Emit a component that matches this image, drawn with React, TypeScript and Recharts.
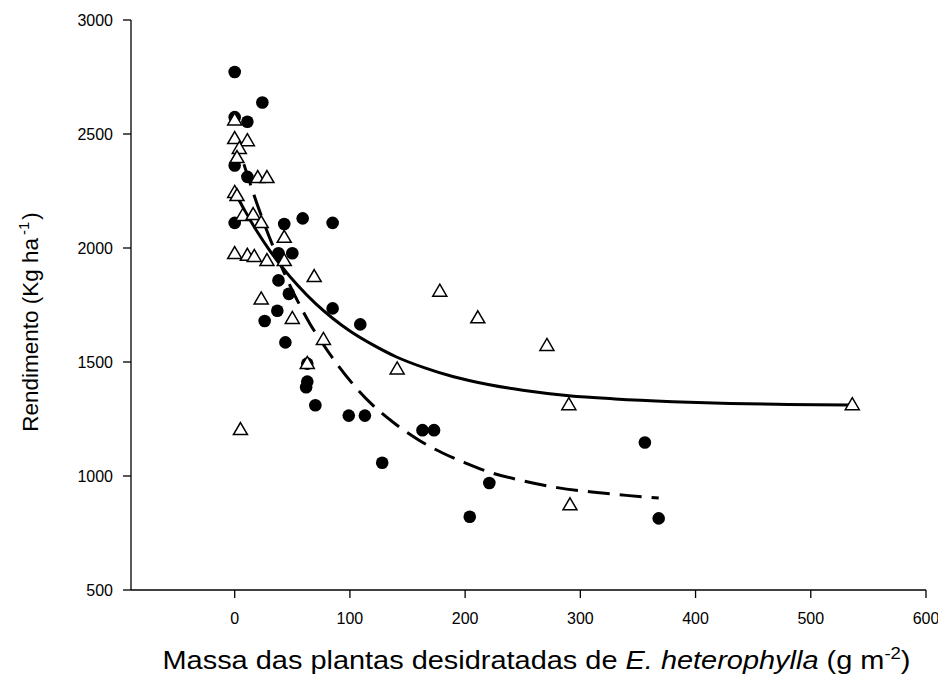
import { ComposedChart, Scatter, Line, XAxis, YAxis, Label } from "recharts"

// Rendimento em função da massa seca de E. heterophylla: dois conjuntos de pontos e as curvas ajustadas

// pontos cheios (●)
const circleX = [0, 24, 11, 0, 0, 11, 0, 43, 59, 85, 38, 50, 38, 47, 37, 26, 44, 85, 109, 63, 63, 62, 70, 99, 113, 128, 163, 173, 221, 204, 356, 368]
const circleY = [2772, 2638, 2554, 2574, 2362, 2312, 2110, 2105, 2130, 2110, 1977, 1977, 1858, 1799, 1725, 1680, 1586, 1735, 1665, 1493, 1414, 1389, 1310, 1265, 1265, 1058, 1201, 1201, 969, 821, 1147, 814]

// pontos vazios (△)
const triangleX = [0, 0, 11, 4, 2, 20, 28, 0, 2, 7, 16, 23, 43, 0, 11, 17, 28, 43, 69, 23, 50, 77, 63, 5, 178, 211, 271, 141, 290, 536, 291]
const triangleY = [2564, 2482, 2473, 2439, 2399, 2311, 2311, 2246, 2232, 2145, 2149, 2114, 2049, 1978, 1970, 1965, 1947, 1947, 1877, 1779, 1693, 1601, 1496, 1206, 1813, 1696, 1575, 1472, 1315, 1315, 876]

// curva contínua (△)
const solidX = [2, 10, 20, 30, 40, 55, 70, 85, 100, 120, 140, 165, 190, 220, 250, 290, 330, 380, 430, 480, 534]
const solidY = [2228, 2152, 2068, 1992, 1924, 1834, 1757, 1692, 1636, 1575, 1523, 1474, 1435, 1401, 1376, 1352, 1338, 1326, 1318, 1314, 1311]

// curva tracejada (●)
const dashedX = [8, 15, 25, 35, 45, 55, 65, 75, 90, 105, 120, 140, 160, 180, 200, 220, 250, 280, 310, 340, 368]
const dashedY = [2367, 2258, 2115, 1986, 1868, 1764, 1670, 1591, 1483, 1389, 1310, 1226, 1157, 1102, 1058, 1019, 979, 949, 930, 915, 903]

const xTicks = [0, 100, 200, 300, 400, 500, 600]
const yTicks = [500, 1000, 1500, 2000, 2500, 3000]

const toPoints = (xs: number[], ys: number[]) => xs.map((x, i) => ({ x, y: ys[i] }))

const circles = toPoints(circleX, circleY)
const triangles = toPoints(triangleX, triangleY)
const solid = toPoints(solidX, solidY)
const dashed = toPoints(dashedX, dashedY)

const FONT = "Arial, 'Liberation Sans', sans-serif"

const FilledDot = (p: any) => <circle cx={p.cx} cy={p.cy} r={6.3} fill="#000" />

const OpenTriangle = (p: any) => {
  const { cx, cy } = p
  return (
    <path
      d={`M${cx},${cy - 6.5} L${cx + 7},${cy + 5.5} L${cx - 7},${cy + 5.5} Z`}
      fill="#fff"
      stroke="#000"
      strokeWidth={1.5}
    />
  )
}

const XTitle = (props: any) => {
  const vb = props.viewBox || { x: 123, y: 582, width: 795 }
  return (
    <text
      x={vb.x + vb.width / 2 + 8}
      y={vb.y + 79}
      textAnchor="middle"
      fontFamily={FONT}
      fontSize={25}
      fill="#000"
      textLength={748}
      lengthAdjust="spacingAndGlyphs"
    >
      Massa das plantas desidratadas de <tspan fontStyle="italic">E. heterophylla</tspan> (g m
      <tspan dy={-10} fontSize={16}>-2</tspan>
      <tspan dy={10}>)</tspan>
    </text>
  )
}

const YTitle = (props: any) => {
  const vb = props.viewBox || { y: 12, height: 570 }
  const cx = 30
  const cy = vb.y + vb.height / 2 + 17
  return (
    <text x={cx} y={cy} transform={`rotate(-90, ${cx}, ${cy})`} textAnchor="middle" fontFamily={FONT} fontSize={22.5} fill="#000">
      Rendimento (Kg ha
      <tspan dx={3} dy={-9} fontSize={15}>-1</tspan>
      <tspan dx={2} dy={9}>)</tspan>
    </text>
  )
}

export default function App() {
  const axisStyle = { stroke: "#000", strokeWidth: 1.3 }
  const tickStyle = { fill: "#000", fontSize: 16, fontFamily: FONT }
  return (
    <div style={{ width: 938, height: 680, background: "#fff" }}>
      <ComposedChart width={938} height={680} margin={{ top: 12, right: 20, left: 0, bottom: 18 }}>
        <XAxis
          type="number"
          dataKey="x"
          domain={[-90, 600]}
          ticks={xTicks}
          allowDataOverflow
          height={80}
          axisLine={axisStyle}
          tickLine={axisStyle}
          tickSize={8}
          tickMargin={15}
          tick={tickStyle}
        >
          <Label content={<XTitle />} />
        </XAxis>
        <YAxis
          type="number"
          dataKey="y"
          domain={[500, 3000]}
          ticks={yTicks}
          allowDataOverflow
          width={123}
          axisLine={axisStyle}
          tickLine={axisStyle}
          tickSize={8}
          tickMargin={10}
          tick={tickStyle}
        >
          <Label content={<YTitle />} />
        </YAxis>
        <Scatter data={circles} dataKey="y" shape={FilledDot} isAnimationActive={false} />
        <Scatter data={triangles} dataKey="y" shape={OpenTriangle} isAnimationActive={false} />
        <Line data={solid} dataKey="y" type="monotone" stroke="#000" strokeWidth={3} dot={false} activeDot={false} isAnimationActive={false} />
        <Line
          data={dashed}
          dataKey="y"
          type="monotone"
          stroke="#000"
          strokeWidth={3}
          strokeDasharray="22 10"
          dot={false}
          activeDot={false}
          isAnimationActive={false}
        />
      </ComposedChart>
    </div>
  )
}
